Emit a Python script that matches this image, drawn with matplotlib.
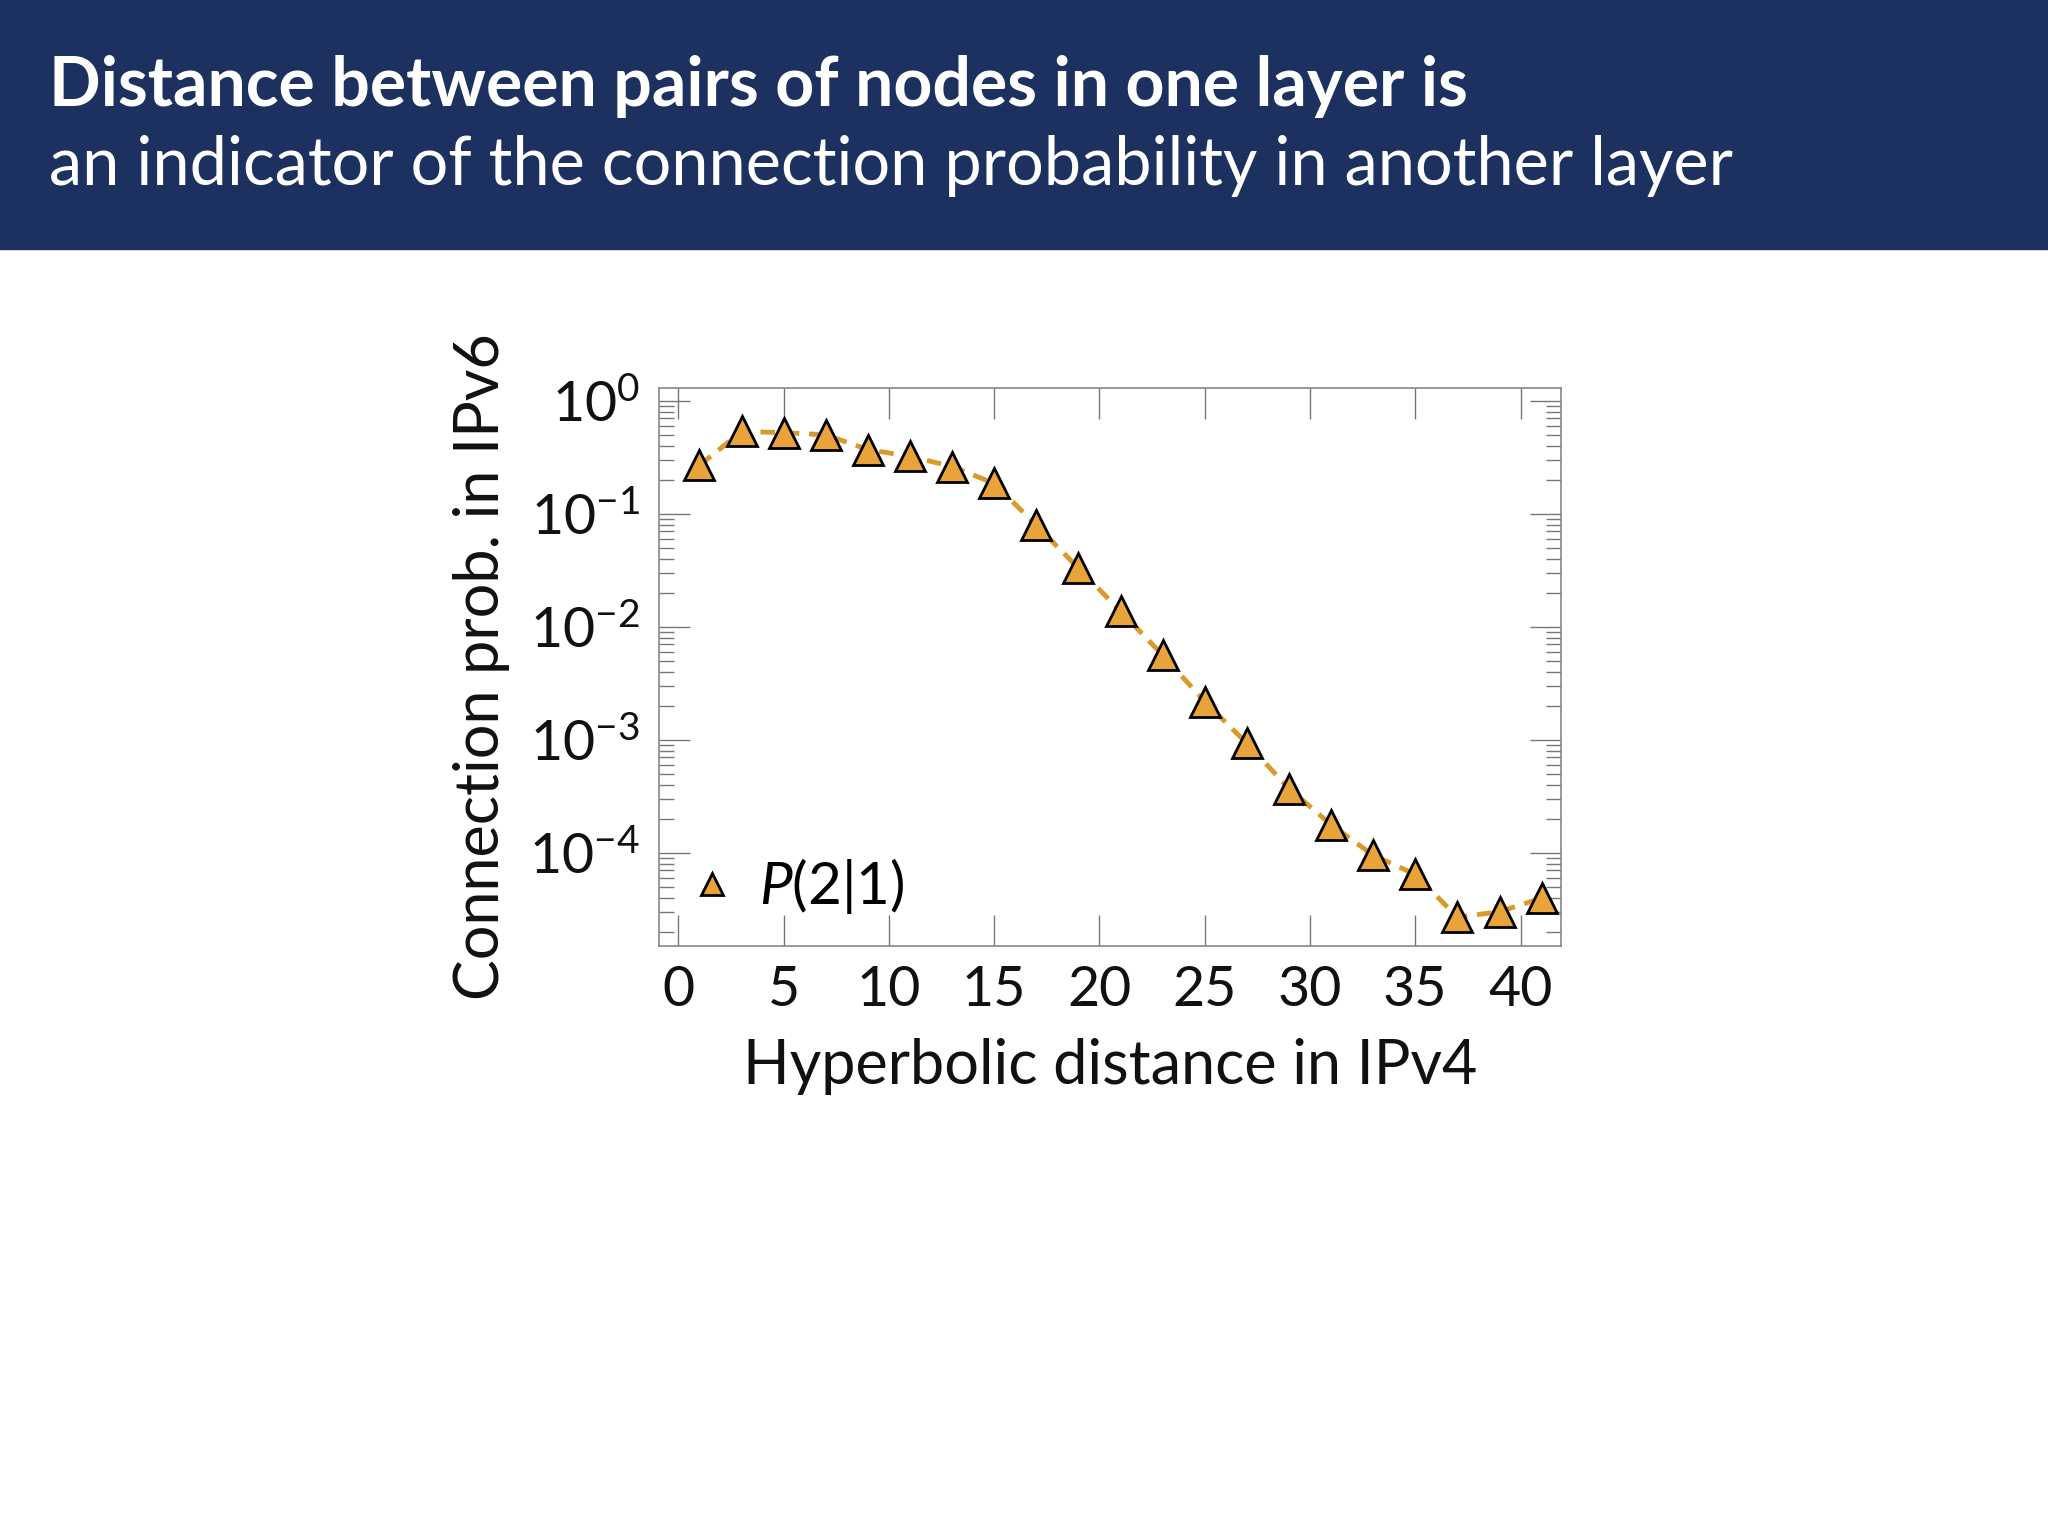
import numpy as np
import matplotlib.pyplot as plt
from matplotlib.lines import Line2D
from matplotlib.ticker import LogLocator, FixedLocator, NullFormatter

# hyperbolic distance bins and log10 of connection probability
dist = [1, 3, 5, 7, 9, 11, 13, 15, 17, 19, 21, 23, 25, 27, 29, 31, 33, 35, 37, 39, 41]
log_prob = [-0.57, -0.27, -0.28, -0.30, -0.43, -0.49, -0.58, -0.73, -1.10, -1.48, -1.86,
            -2.25, -2.66, -3.03, -3.43, -3.75, -4.02, -4.19, -4.57, -4.52, -4.40]
prob = 10 ** np.array(log_prob)
xticks = [0, 5, 10, 15, 20, 25, 30, 35, 40]

plt.rcParams['font.family'] = ['Lato', 'DejaVu Sans']
plt.rcParams['text.color'] = 'black'
plt.rcParams['mathtext.fontset'] = 'custom'
plt.rcParams['mathtext.it'] = 'Lato:italic'
plt.rcParams['mathtext.rm'] = 'Lato'

fig = plt.figure(figsize=(20.48, 15.36), dpi=100)
fig.patches.append(plt.Rectangle((0, 0.838), 1, 0.162, transform=fig.transFigure,
                                 color="#1d3160", zorder=0))
fig.text(0.024, 0.944, "Distance between pairs of nodes in one layer is", color="white",
         fontsize=49, fontweight="bold", va="center")
fig.text(0.024, 0.892, "an indicator of the connection probability in another layer",
         color="white", fontsize=48, va="center")

ax = fig.add_axes([0.322, 0.3844, 0.440, 0.363])
ax.plot(dist, prob, ls=(0, (3, 2)), color="#d99a2b", lw=3.5, zorder=2)
ax.plot(dist, prob, ls="none", marker="^", ms=22, mfc="#e8a33a", mec="black", mew=2, zorder=3)
ax.set_yscale("log")
ax.set_xlim(-0.9, 41.9)
ax.set_ylim(10 ** -4.82, 10 ** 0.115)
ax.xaxis.set_major_locator(FixedLocator(xticks))
ax.yaxis.set_major_locator(LogLocator(base=10, numticks=10))
ax.yaxis.set_minor_locator(LogLocator(base=10, subs=np.arange(2, 10), numticks=20))
ax.yaxis.set_minor_formatter(NullFormatter())
ax.tick_params(which="major", direction="in", length=22, width=1, color="#777777",
               top=True, right=True, labelsize=40, pad=14, labelcolor="#111111")
ax.tick_params(which="minor", direction="in", length=11, width=1, color="#777777",
               right=True, left=True)
for s in ax.spines.values():
    s.set_color("#888888")
    s.set_linewidth(1.2)
ax.set_xlabel("Hyperbolic distance in IPv4", fontsize=44, color="#111111", labelpad=16)
ax.set_ylabel("Connection prob. in IPv6", fontsize=44, color="#111111", labelpad=14)
h = Line2D([], [], ls="none", marker="^", ms=16, mfc="#e8a33a", mec="black", mew=2)
ax.legend([h], [r"$P$(2|1)"], loc="lower left", frameon=False, fontsize=42,
          handlelength=0.8, handletextpad=0.4, borderaxespad=0.3, borderpad=0.2)

fig.savefig("out.png", dpi=100)
